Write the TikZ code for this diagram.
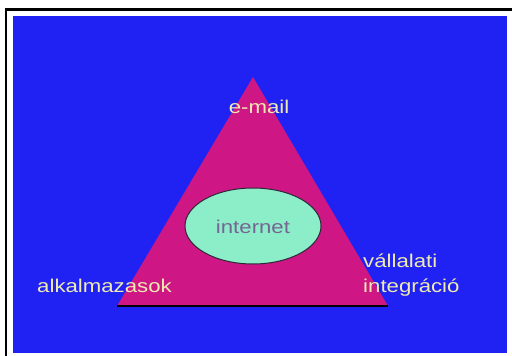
\documentclass[tikz,border=0pt]{standalone}
\usepackage{fontspec}
\setmainfont{Liberation Sans}
\definecolor{slideblue}{RGB}{32,34,244}
\definecolor{pyramid}{RGB}{206,22,132}
\definecolor{baseline}{RGB}{120,24,80}
\definecolor{core}{RGB}{140,238,200}
\definecolor{coreedge}{RGB}{45,40,55}
\definecolor{labeltext}{RGB}{238,234,176}
\definecolor{coretext}{RGB}{118,100,148}
\begin{document}
\begin{tikzpicture}[x=1pt,y=-1pt,
  label/.style={font=\fontsize{18.5}{20}\selectfont, text=labeltext, inner sep=0pt, xscale=1.2},
  coretxt/.style={font=\fontsize{18.5}{20}\selectfont, text=coretext, inner sep=0pt, xscale=1.2}]
  \useasboundingbox (0,0) rectangle (512,356);
  \fill[white] (0,0) rectangle (512,356);
  % frame lines along top and left
  \fill[black] (5,8) rectangle (512,11);
  \fill[black] (5,8) rectangle (7,356);
  % slide background
  \fill[slideblue] (13,16) rectangle (507,353);
  % pyramid
  \coordinate (apex) at (253,77);
  \coordinate (bl) at (117,306);
  \coordinate (br) at (388,306);
  \fill[pyramid] (apex) -- (br) -- (bl) -- cycle;
  \draw[baseline, line width=1.8pt] (bl) -- (br);
  % core ellipse
  \filldraw[fill=core, draw=coreedge, line width=1pt] (253,226) ellipse [x radius=68, y radius=38];
  \node[coretxt, anchor=base] (inet) at (253,233) {internet};
  % corner labels
  \node[label, anchor=base] (mail) at (259,113) {e-mail};
  \node[label, anchor=base west] (apps) at (37,292) {alkalmazasok};
  \node[label, anchor=base west] (corp1) at (363,267) {vállalati};
  \node[label, anchor=base west] (corp2) at (363,292) {integráció};
\end{tikzpicture}
\end{document}
